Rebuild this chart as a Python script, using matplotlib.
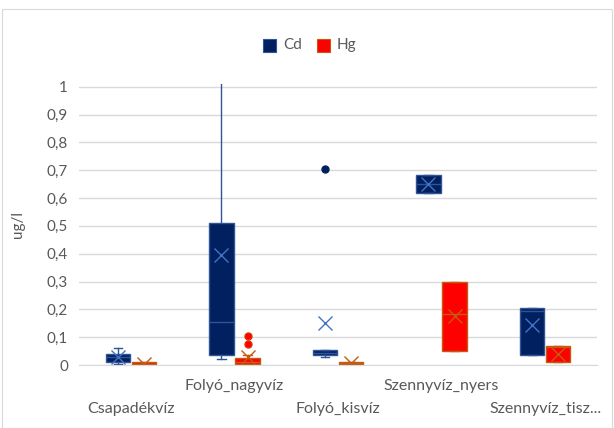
import matplotlib.pyplot as plt
import matplotlib.ticker as mticker
from matplotlib.patches import Rectangle

plt.rcParams['font.family'] = ['Lato', 'DejaVu Sans']

categories = ['Csapadékvíz', 'Folyó_nagyvíz', 'Folyó_kisvíz', 'Szennyvíz_nyers', 'Szennyvíz_tisz...']

# Cd
cd_whislo = [0.005, 0.022, 0.029, 0.619, 0.038]
cd_q1 = [0.010, 0.038, 0.037, 0.619, 0.038]
cd_med = [0.030, 0.154, 0.045, 0.651, 0.195]
cd_q3 = [0.040, 0.510, 0.054, 0.683, 0.205]
cd_whishi = [0.063, 1.200, 0.054, 0.683, 0.205]
cd_mean = [0.028, 0.396, 0.150, 0.650, 0.144]
cd_fliers = [[], [], [0.705], [], []]

# Hg
hg_whislo = [0.003, 0.003, 0.003, 0.051, 0.010]
hg_q1 = [0.003, 0.003, 0.003, 0.051, 0.010]
hg_med = [0.005, 0.012, 0.006, 0.183, 0.065]
hg_q3 = [0.010, 0.026, 0.012, 0.297, 0.068]
hg_whishi = [0.010, 0.036, 0.012, 0.297, 0.068]
hg_mean = [0.005, 0.030, 0.006, 0.175, 0.040]
hg_fliers = [[], [0.104, 0.076], [], [], []]

yticks = [0, 0.1, 0.2, 0.3, 0.4, 0.5, 0.6, 0.7, 0.8, 0.9, 1]


def make_stats(lo, q1, med, q3, hi, mean, fl):
    return [dict(whislo=a, q1=b, med=c, q3=d, whishi=e, mean=f, fliers=g)
            for a, b, c, d, e, f, g in zip(lo, q1, med, q3, hi, mean, fl)]


fig = plt.figure(figsize=(6.14, 4.28), dpi=100)
ax = fig.add_axes([0.129, 0.147, 0.843, 0.657])

fig.patches.append(Rectangle((0.003, 0.0), 0.994, 0.979, transform=fig.transFigure,
                             fill=False, edgecolor='#d9d9d9', linewidth=0.8))

cd_stats = make_stats(cd_whislo, cd_q1, cd_med, cd_q3, cd_whishi, cd_mean, cd_fliers)
hg_stats = make_stats(hg_whislo, hg_q1, hg_med, hg_q3, hg_whishi, hg_mean, hg_fliers)

pos = list(range(len(categories)))
off = 0.126
w = 0.235

series = [
    (cd_stats, [p - off for p in pos], '#002060', '#2f5597', '#4472c4', 'Cd'),
    (hg_stats, [p + off for p in pos], '#ff0000', '#c55a11', '#c55a11', 'Hg'),
]
for stats, positions, fill, edge, meanc, name in series:
    ax.bxp(stats, positions=positions, widths=w, showmeans=True, patch_artist=True,
           showcaps=True, capwidths=w * 0.35,
           boxprops=dict(facecolor=fill, edgecolor=edge, linewidth=1),
           medianprops=dict(color=edge, linewidth=1),
           whiskerprops=dict(color=edge, linewidth=1),
           capprops=dict(color=edge, linewidth=1),
           meanprops=dict(marker='x', markeredgecolor=meanc, markersize=10, markeredgewidth=1),
           flierprops=dict(marker='o', markerfacecolor=fill if name == 'Cd' else '#ff0000',
                           markeredgecolor=fill if name == 'Cd' else '#e03000', markersize=5))

ax.set_xlim(-0.5, len(categories) - 0.5)
ax.set_ylim(0, 1.01)
ax.set_yticks(yticks)
ax.yaxis.set_major_formatter(mticker.FuncFormatter(
    lambda v, p: ('%g' % round(v, 1)).replace('.', ',')))
ax.grid(axis='y', color='#d9d9d9', linewidth=1)
ax.set_axisbelow(True)
for s in ['top', 'right', 'left']:
    ax.spines[s].set_visible(False)
ax.spines['bottom'].set_color('#d9d9d9')
ax.tick_params(axis='y', length=0, labelsize=11, labelcolor='#595959', pad=8)
ax.tick_params(axis='x', length=0)
ax.set_xticks(pos)
ax.set_xticklabels([])
for i, c in enumerate(categories):
    y = -0.155 if i % 2 == 0 else -0.075
    ax.text(i, y, c, ha='center', va='center', fontsize=11.5, color='#595959',
            transform=ax.get_xaxis_transform())
ax.set_ylabel('ug/l', fontsize=11, color='#595959', labelpad=16)

# legend
fig.patches.append(Rectangle((263 / 614, 1 - 52 / 428), 13 / 614, 13 / 428, transform=fig.transFigure,
                             facecolor='#002060', edgecolor='#2f5597', linewidth=0.8))
fig.text(283 / 614, 1 - 45 / 428, 'Cd', fontsize=11, color='#595959', va='center')
fig.patches.append(Rectangle((317 / 614, 1 - 52 / 428), 13 / 614, 13 / 428, transform=fig.transFigure,
                             facecolor='#ff0000', edgecolor='#c55a11', linewidth=0.8))
fig.text(337 / 614, 1 - 45 / 428, 'Hg', fontsize=11, color='#595959', va='center')

fig.savefig('out.png', dpi=100)
